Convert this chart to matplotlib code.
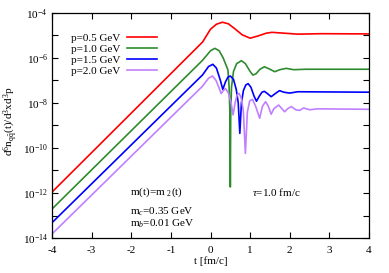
import numpy as np
import matplotlib
matplotlib.use("Agg")
import matplotlib.pyplot as plt

plt.rcParams["font.family"] = ["Liberation Serif", "DejaVu Serif"]
plt.rcParams["mathtext.fontset"] = "custom"
plt.rcParams["mathtext.rm"] = "Liberation Serif"
plt.rcParams["mathtext.it"] = "Liberation Serif:italic"

# ============================================================
# DATA  (t in fm/c, log10 of d6n/d3xd3p)
# ============================================================

labels = ["p=0.5 GeV", "p=1.0 GeV", "p=1.5 GeV", "p=2.0 GeV"]
colors = ["#ff0000", "#2e8b2e", "#0000ff", "#c080ff"]

t_red = [-4, -0.2, 0.0, 0.15, 0.3, 0.45, 0.6, 0.8, 1.0, 1.2, 1.4, 1.55, 1.8, 2.2, 2.8, 4]
y_red = [-11.96, -5.29, -4.72, -4.5, -4.41, -4.48, -4.68, -4.97, -5.12, -5.02, -4.9, -4.86, -4.89, -4.94, -4.92, -4.93]

t_green = [-4, -0.2, 0.0, 0.11, 0.22, 0.32, 0.44, 0.47, 0.49, 0.50, 0.51, 0.53, 0.58, 0.66, 0.78,
           0.88, 1.0, 1.07, 1.15, 1.25, 1.36, 1.5, 1.62, 1.75, 1.91, 2.1, 2.4, 4]
y_green = [-12.71, -6.1, -5.68, -5.57, -5.68, -6.0, -6.53, -7.3, -8.5, -11.73, -8.5, -7.3, -6.6, -6.25, -6.12,
           -6.25, -6.6, -6.76, -6.7, -6.5, -6.39, -6.5, -6.61, -6.52, -6.46, -6.52, -6.5, -6.5]

t_blue = [-4, -0.2, -0.05, 0.06, 0.15, 0.25, 0.31, 0.38, 0.44, 0.50, 0.58, 0.65, 0.70, 0.74, 0.78,
          0.83, 0.89, 0.95, 1.02, 1.1, 1.16, 1.23, 1.3, 1.36, 1.45, 1.53, 1.62, 1.74, 1.85, 2.0, 2.2, 4]
y_blue = [-13.32, -6.75, -6.38, -6.28, -6.45, -7.0, -7.4, -7.05, -6.85, -6.8, -6.95, -7.4, -8.0, -9.35, -8.0,
          -7.45, -7.2, -7.14, -7.3, -7.7, -7.92, -7.7, -7.52, -7.48, -7.6, -7.72, -7.6, -7.45, -7.52, -7.56, -7.5, -7.52]

t_purple = [-4, -0.2, -0.05, 0.05, 0.14, 0.22, 0.27, 0.32, 0.38, 0.45, 0.52, 0.57, 0.62, 0.67, 0.72,
            0.78, 0.83, 0.88, 0.93, 0.99, 1.06, 1.14, 1.24, 1.31, 1.39, 1.46, 1.53, 1.6, 1.72, 1.8,
            1.87, 1.95, 2.04, 2.15, 2.25, 2.35, 2.5, 2.7, 4]
y_purple = [-13.82, -7.25, -6.9, -6.8, -7.0, -7.35, -7.58, -7.45, -7.36, -7.55, -8.0, -8.53, -8.0, -7.65, -7.57,
            -7.8, -8.4, -10.24, -8.4, -7.9, -7.84, -8.15, -8.68, -8.15, -7.94, -8.15, -8.5, -8.25, -8.09, -8.25,
            -8.39, -8.25, -8.16, -8.3, -8.33, -8.22, -8.3, -8.26, -8.28]

curves = [(t_red, y_red), (t_green, y_green), (t_blue, y_blue), (t_purple, y_purple)]

x_ticks = [-4, -3, -2, -1, 0, 1, 2, 3, 4]
y_decades = np.arange(-14, -3)

# ============================================================
# PLOT
# ============================================================

fig = plt.figure(figsize=(3.89, 2.73), dpi=100)
ax = fig.add_axes([0.1337, 0.1282, 0.8149, 0.8242])

for (t, y), c, lab in zip(curves, colors, labels):
    ax.plot(t, 10.0 ** np.array(y), color=c, lw=1.2, label=lab)

ax.set_yscale("log")
ax.set_xlim(-4, 4)
ax.set_ylim(1e-14, 1e-4)

ax.set_xticks(x_ticks)
ax.set_xticklabels([str(v) for v in x_ticks])
ax.set_yticks([10.0 ** d for d in y_decades])
ax.set_yticklabels([rf"10$^{{{d}}}$" if d % 2 == 0 else "" for d in y_decades])
ax.minorticks_off()
ax.tick_params(direction="in", length=4, width=0.8, top=True, right=True,
               labelsize=8, pad=6)
ax.tick_params(axis="y", pad=3)

for s in ax.spines.values():
    s.set_linewidth(0.9)

ax.set_xlabel("t [fm/c]", fontsize=8, labelpad=1)
ax.set_ylabel(r"d$^6$n$_{\mathrm{q\bar{q}}}$(t)/d$^3$xd$^3$p", fontsize=8)
ax.yaxis.set_label_coords(-0.1, 0.52)

leg = ax.legend(loc="upper left", bbox_to_anchor=(0.045, 0.93), frameon=False,
                markerfirst=False, fontsize=8, handlelength=2.7, labelspacing=0.12,
                handletextpad=0.6, borderaxespad=0)

ax.text(-2.04, 10 ** -11.96, r"m(t)=m $_{2}$(t)", fontsize=8, va="center")
ax.text(1.04, 10 ** -11.96, r"$\tau$=1.0 fm/c", fontsize=8, va="center")
ax.text(-2.04, 10 ** -12.84, r"m$_c$=0.35 GeV", fontsize=8, va="center")
ax.text(-2.04, 10 ** -13.38, r"m$_b$=0.01 GeV", fontsize=8, va="center")

plt.savefig("out.png", dpi=100)
plt.close()
